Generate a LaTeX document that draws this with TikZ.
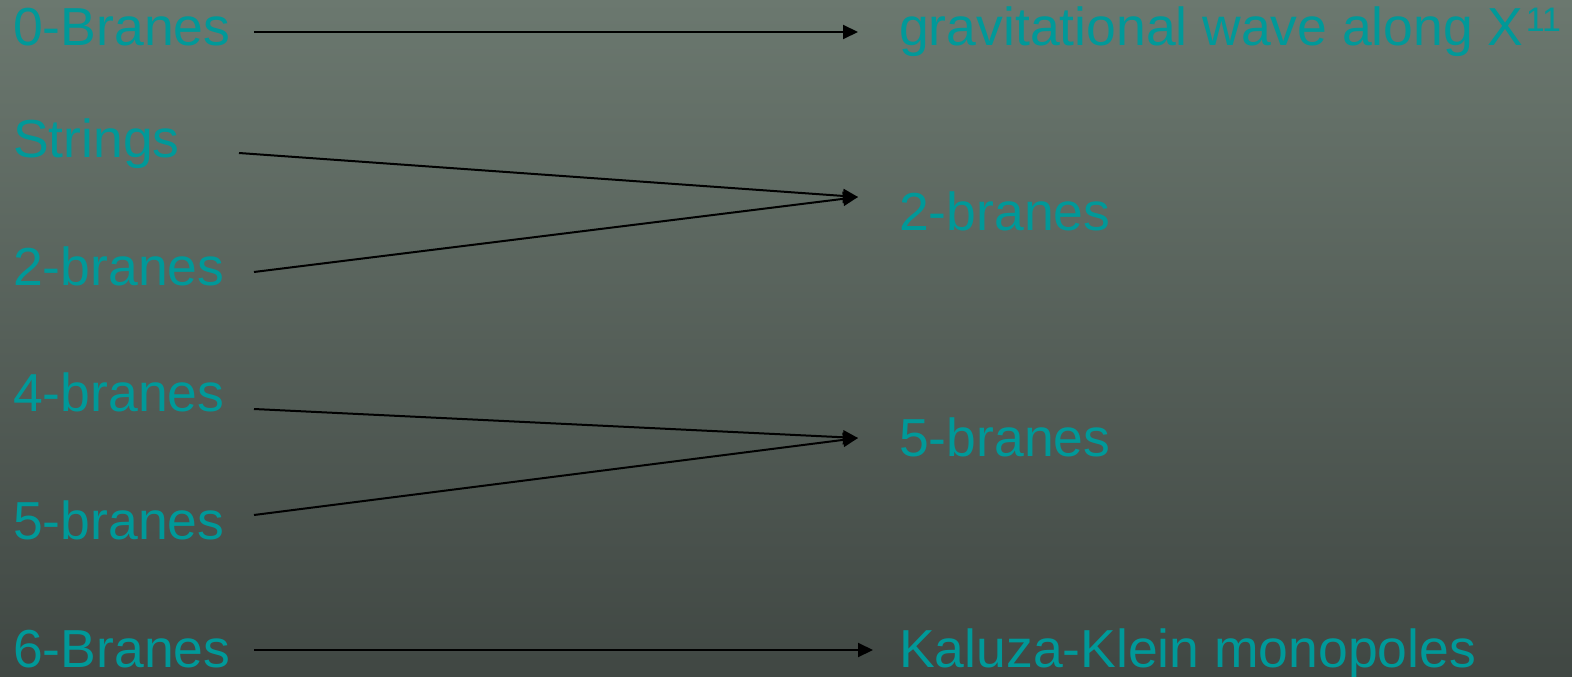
\documentclass[tikz,border=0pt]{standalone}
\usepackage{fontspec}
\setmainfont{Liberation Sans}
\usetikzlibrary{arrows.meta,calc}
\definecolor{bgtop}{RGB}{107,120,111}
\definecolor{bgbot}{RGB}{64,71,67}
\definecolor{teal1}{RGB}{0,153,153}
\begin{document}
\begin{tikzpicture}[x=1pt,y=1pt,
  lbl/.style={anchor=base west,inner sep=0pt,text=teal1,font=\fontsize{53.5}{60}\selectfont},
  arr/.style={draw=black,line width=2pt,-{Triangle[length=15pt,width=14pt]}}]
\shade[top color=bgtop,bottom color=bgbot] (0,0) rectangle (1572,-677);
\useasboundingbox (0,0) rectangle (1572,-677);
% left column
\node[lbl] (l0) at (13,-46) {0-Branes};
\node[lbl] (l1) at (13,-157) {Strings};
\node[lbl] (l2) at (13,-285) {2-branes};
\node[lbl] (l4) at (13,-411) {4-branes};
\node[lbl] (l5) at (13,-539) {5-branes};
\node[lbl] (l6) at (13,-667) {6-Branes};
% right column
\node[lbl] (r0) at (899,-46) {gravitational wave along X\kern2pt\raisebox{14pt}{\fontsize{34}{40}\selectfont 11}};
\node[lbl] (r2) at (899,-230) {2-branes};
\node[lbl] (r5) at (899,-456) {5-branes};
\node[lbl] (r6) at (899,-667) {Kaluza-Klein monopoles};
% ports
\coordinate (a0) at (254,-32);   \coordinate (t0) at (858,-32);
\coordinate (a1) at (239,-153);  \coordinate (t2) at (858,-197);
\coordinate (a2) at (254,-272);
\coordinate (a4) at (254,-409);  \coordinate (t5) at (858,-438);
\coordinate (a5) at (254,-515);
\coordinate (a6) at (254,-650);  \coordinate (t6) at (873,-650);
% connectors
\draw[arr] (a0) -- (t0);
\draw[arr] (a1) -- (t2);
\draw[arr] (a2) -- (t2);
\draw[arr] (a4) -- (t5);
\draw[arr] (a5) -- (t5);
\draw[arr] (a6) -- (t6);
\end{tikzpicture}
\end{document}
